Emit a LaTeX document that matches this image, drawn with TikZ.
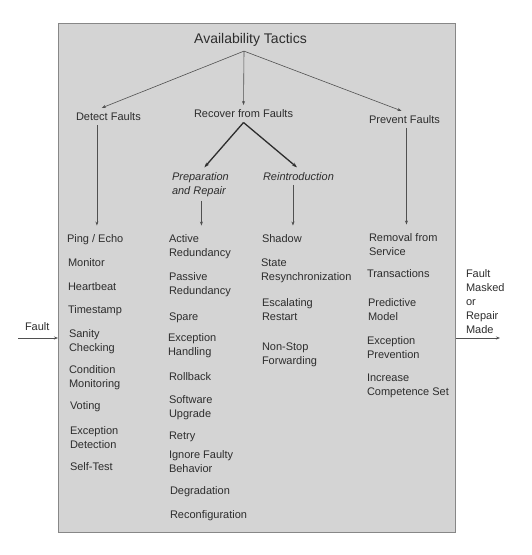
\documentclass[tikz,border=0pt]{standalone}
\usepackage{fontspec}
\setmainfont{Liberation Sans}
\usetikzlibrary{arrows.meta,calc}
\definecolor{boxfill}{RGB}{212,212,212}
\definecolor{boxline}{RGB}{135,135,135}
\definecolor{ink}{RGB}{45,45,45}
\definecolor{wire}{RGB}{80,80,80}
\tikzset{
  head/.style={inner sep=0pt, outer xsep=0pt, outer ysep=4.7pt, text=ink, font=\fontsize{11}{14}\selectfont, anchor=base west},
  item/.style={inner sep=0pt, outer xsep=0pt, outer ysep=8.5pt, text=ink, font=\fontsize{11}{14}\selectfont, anchor=base west, align=left},
  conn/.style={draw=wire, line width=0.6pt, -{Stealth[length=4pt,width=3pt]}},
  thickconn/.style={draw=ink, line width=1.3pt, -{Stealth[length=5pt,width=3.5pt]}}
}
\begin{document}
\begin{tikzpicture}[x=1pt,y=-1pt]
\useasboundingbox (0,0) rectangle (531,555);
\node[draw=boxline, fill=boxfill, line width=0.8pt, minimum width=397pt, minimum height=509pt, anchor=north west, inner sep=0pt] (box) at (58,23) {};

% headings (multi-line nodes are placed by the baseline of their last line)
\node[head, anchor=base, font=\fontsize{14}{16}\selectfont] (title) at (250.5,43.5) {Availability Tactics};
\node[head] (detect) at (76,120.5) {Detect Faults};
\node[head] (recover) at (194,117.7) {Recover from Faults};
\node[head] (prevent) at (369,123.5) {Prevent Faults};
\node[head, align=left, font=\fontsize{11}{14}\itshape] (prep) at (172,194) {Preparation\\and Repair};
\node[head, font=\fontsize{11}{14}\itshape] (reintro) at (263,180) {Reintroduction};

% column 1
\node[item] (ping) at (67,242) {Ping / Echo};
\node[item] (monitor) at (68,266) {Monitor};
\node[item] (heartbeat) at (68,290) {Heartbeat};
\node[item] (timestamp) at (68,313) {Timestamp};
\node[item] (sanity) at (69,351) {Sanity\\Checking};
\node[item] (condition) at (69,387) {Condition\\Monitoring};
\node[item] (voting) at (70,409) {Voting};
\node[item] (excdet) at (70,448) {Exception\\Detection};
\node[item] (selftest) at (70,470) {Self-Test};

% column 2
\node[item] (active) at (169,256) {Active\\Redundancy};
\node[item] (passive) at (169,294) {Passive\\Redundancy};
\node[item] (spare) at (169,320) {Spare};
\node[item] (exchand) at (168,355) {Exception\\Handling};
\node[item] (rollback) at (169,380) {Rollback};
\node[item] (upgrade) at (169,417) {Software\\Upgrade};
\node[item] (retry) at (169,439) {Retry};
\node[item] (ignore) at (169,472) {Ignore Faulty\\Behavior};
\node[item] (degrade) at (170,494) {Degradation};
\node[item] (reconf) at (170,518) {Reconfiguration};

% column 3
\node[item] (shadow) at (262,242) {Shadow};
\node[item] (resync) at (261,280) {State\\Resynchronization};
\node[item] (restart) at (262,320) {Escalating\\Restart};
\node[item] (nonstop) at (262,364) {Non-Stop\\Forwarding};

% column 4
\node[item] (removal) at (369,255) {Removal from\\Service};
\node[item] (trans) at (367,277) {Transactions};
\node[item] (predict) at (368,320) {Predictive\\Model};
\node[item] (excprev) at (367,358) {Exception\\Prevention};
\node[item] (compet) at (367,395) {Increase\\Competence Set};

% outside labels
\node[head] (faultin) at (25,330) {Fault};
\node[head, align=left] (faultout) at (466,333) {Fault\\Masked\\or\\Repair\\Made};

% connectors
\coordinate (tsrc) at ([xshift=-6.5pt]title.south);
\draw[conn] (tsrc) -- ([xshift=-6.5pt]detect.north);
\draw[conn] (tsrc) -- (recover.north);
\draw[conn] (tsrc) -- ([xshift=-3pt]prevent.north);

\draw[thickconn] (recover.south) -- ([xshift=4pt]prep.north);
\draw[thickconn] (recover.south) -- ([xshift=-1.5pt]reintro.north);

\draw[conn] ([xshift=-11.5pt]detect.south) -- ([xshift=-11.5pt]detect.south |- ping.north);
\draw[conn] ([xshift=1pt]prep.south) -- ([xshift=1pt]prep.south |- active.north);
\draw[conn] ([xshift=-5.5pt]reintro.south) -- ([xshift=-5.5pt]reintro.south |- shadow.north);
\draw[conn] ([xshift=2pt]prevent.south) -- ([xshift=2pt]prevent.south |- removal.north);

\coordinate (fin) at (18,338);
\draw[conn] (fin) -- (fin -| box.west);
\coordinate (fout) at (500,338);
\draw[conn] (fout -| box.east) -- (fout);
\end{tikzpicture}
\end{document}
